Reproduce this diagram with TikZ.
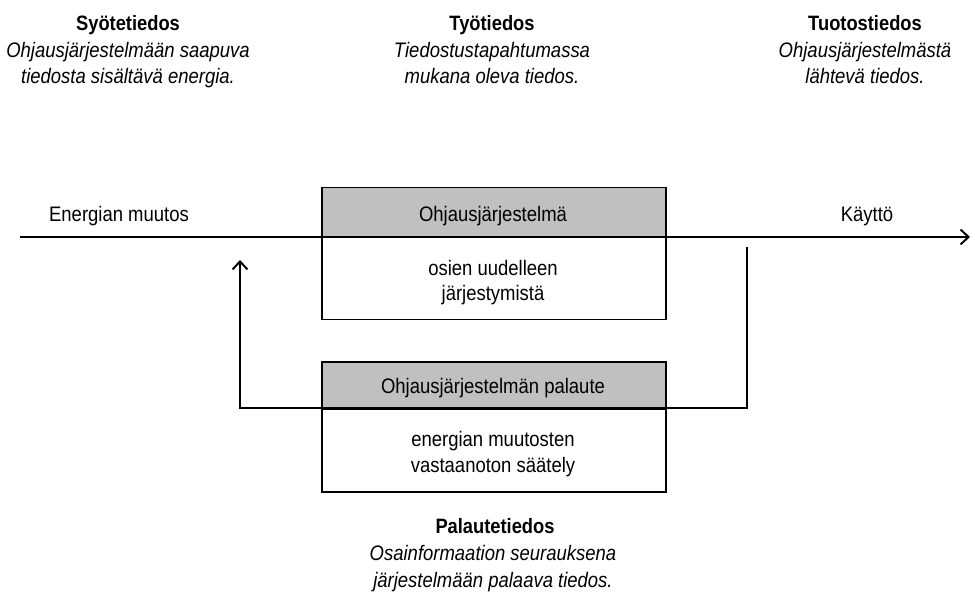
\documentclass[tikz,border=0pt]{standalone}
\usepackage{fontspec}
\setmainfont{Liberation Sans}[FakeStretch=0.88]
\usetikzlibrary{arrows.meta}
\definecolor{hdrgray}{RGB}{192,192,192}
\begin{document}
\begin{tikzpicture}[x=1pt,y=-1pt,
  ttl/.style={font=\fontsize{20.8}{26}\selectfont\bfseries, inner sep=0pt, anchor=base},
  dsc/.style={font=\fontsize{21}{26.5}\selectfont\itshape, align=center, inner sep=0pt, anchor=base},
  plain/.style={font=\fontsize{21}{25.5}\selectfont, align=center, inner sep=0pt, anchor=base},
  hdrbox/.style={draw, line width=1.5pt, fill=hdrgray, minimum width=344pt, anchor=north west, inner sep=0pt},
  bodybox/.style={draw, line width=1.5pt, fill=white, minimum width=344pt, anchor=north west, inner sep=0pt},
  flow/.style={line width=2.6pt},
  barb/.style={-{Straight Barb[length=8pt,width=15pt,line width=2pt]}}
]
\useasboundingbox (0,0) rectangle (971,601);

% top texts
\node[ttl] (t1) at (128,31) {Syötetiedos};
\node[dsc] (d1) at (128,84) {Ohjausjärjestelmään saapuva\\tiedosta sisältävä energia.};
\node[ttl] (t2) at (492,31) {Työtiedos};
\node[dsc] (d2) at (492,84) {Tiedostustapahtumassa\\mukana oleva tiedos.};
\node[ttl] (t3) at (865,31) {Tuotostiedos};
\node[dsc] (d3) at (865,84) {Ohjausjärjestelmästä\\lähtevä tiedos.};

% top box
\node[bodybox, minimum height=82pt] (bodyA) at (321,237) {};
\node[hdrbox, minimum height=50pt] (hdrA) at (321,187) {};
\node[plain] (hdrAtxt) at (493,222) {Ohjausjärjestelmä};
\node[plain] (bodyAtxt) at (493,301) {osien uudelleen\\järjestymistä};

% bottom box
\node[bodybox, minimum height=83pt] (bodyB) at (321,408) {};
\node[hdrbox, minimum height=47pt] (hdrB) at (321,361) {};
\node[plain] (hdrBtxt) at (493,393) {Ohjausjärjestelmän palaute};
\node[plain] (bodyBtxt) at (493,472) {energian muutosten\\vastaanoton säätely};

% labels on main line
\node[plain] (lin) at (119,222) {Energian muutos};
\node[plain] (lout) at (867,222) {Käyttö};

% main flow line
\coordinate (mstart) at (20,237);
\coordinate (mend) at (970,237);
\draw[flow, barb] (mstart) -- (mend);

% feedback loop
\coordinate (rtop) at (747,247);
\coordinate (rbot) at (747,408);
\coordinate (lbot) at (240,408);
\coordinate (ltip) at (240,260);
\draw[flow, barb] (rtop) -- (rbot) -- (lbot) -- (ltip);

% bottom texts
\node[ttl] (t4) at (495,533) {Palautetiedos};
\node[dsc] (d4) at (493,587) {Osainformaation seurauksena\\järjestelmään palaava tiedos.};
\end{tikzpicture}
\end{document}
